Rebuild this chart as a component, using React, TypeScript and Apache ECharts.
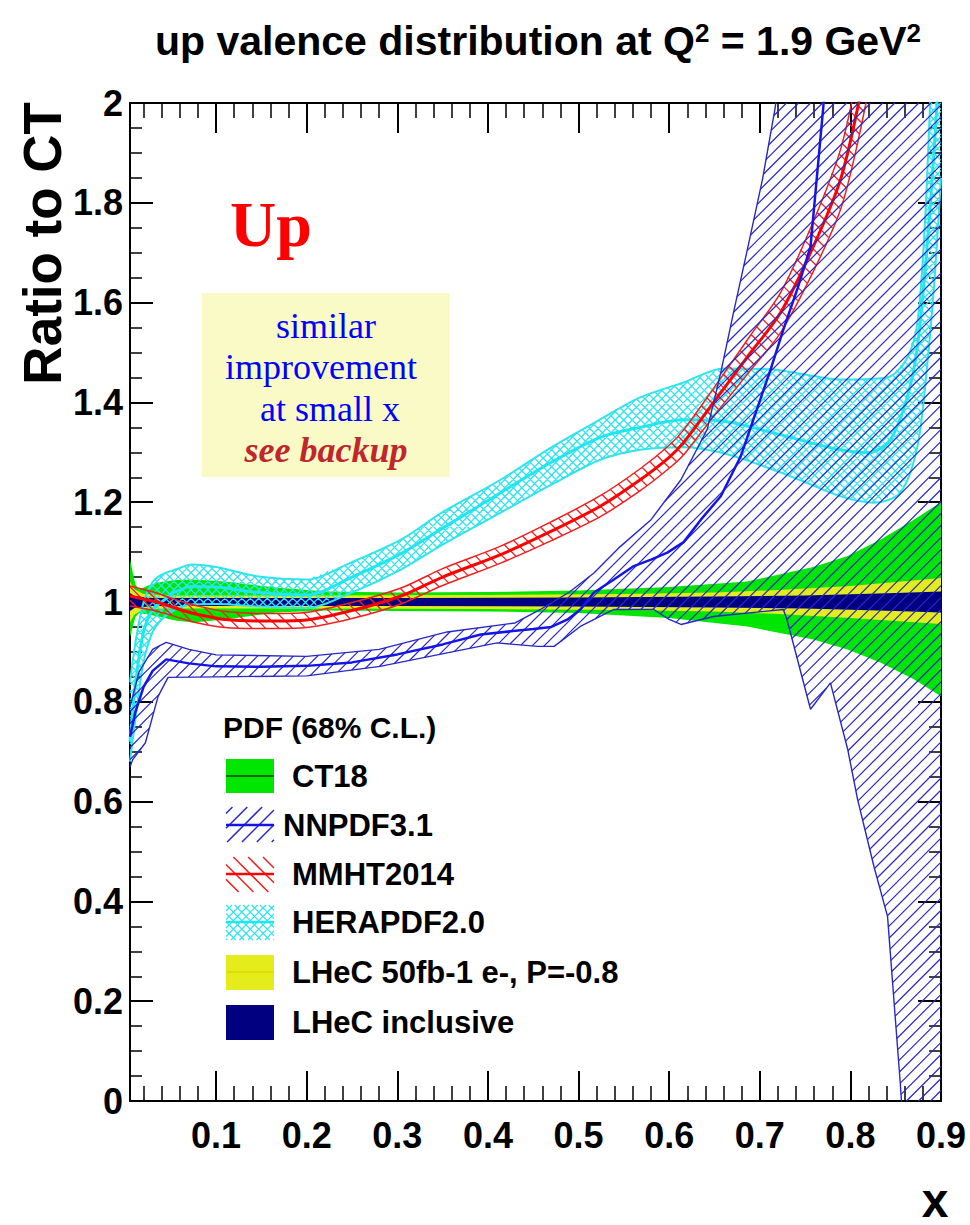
import { useEffect, useRef } from 'react';
import * as echarts from 'echarts';

type Pt = [number, number];

// ---- axes -------------------------------------------------------------
const X_MIN = 0.005;
const X_MAX = 0.9;
const Y_MIN = 0;
const Y_MAX = 2;
const xMajorTicks = [0.1, 0.2, 0.3, 0.4, 0.5, 0.6, 0.7, 0.8, 0.9];
const xTickLabels = ['0.1', '0.2', '0.3', '0.4', '0.5', '0.6', '0.7', '0.8', '0.9'];
const yTickLabels = ['0', '0.2', '0.4', '0.6', '0.8', '1', '1.2', '1.4', '1.6', '1.8', '2'];

// ---- CT18 (solid green band) -----------------------------------------
const ct18Upper: Pt[] = [[0.005, 1.085], [0.008, 1.06], [0.011, 1.035], [0.015, 1.025], [0.025, 1.033], [0.036, 1.039], [0.055, 1.044], [0.074, 1.045], [0.11, 1.041], [0.166, 1.029], [0.221, 1.021], [0.3, 1.019], [0.4, 1.02], [0.5, 1.023], [0.6, 1.03], [0.686, 1.041], [0.759, 1.07], [0.797, 1.092], [0.833, 1.125], [0.87, 1.165], [0.9, 1.2]];
const ct18Lower: Pt[] = [[0.005, 0.93], [0.008, 0.95], [0.011, 0.97], [0.015, 0.978], [0.025, 0.975], [0.036, 0.971], [0.055, 0.963], [0.074, 0.959], [0.11, 0.965], [0.166, 0.979], [0.221, 0.983], [0.3, 0.982], [0.4, 0.981], [0.5, 0.978], [0.6, 0.968], [0.686, 0.951], [0.759, 0.925], [0.797, 0.905], [0.833, 0.879], [0.87, 0.845], [0.9, 0.811]];
const ct18Central: Pt[] = [[0.005, 1], [0.9, 1]];

// ---- LHeC 50fb-1 e-, P=-0.8 (yellow band) ---------------------------
const lhec50Upper: Pt[] = [[0.005, 1.04], [0.01, 1.025], [0.02, 1.016], [0.05, 1.013], [0.2, 1.013], [0.4, 1.014], [0.55, 1.016], [0.65, 1.019], [0.72, 1.024], [0.8, 1.032], [0.85, 1.04], [0.9, 1.048]];
const lhec50Lower: Pt[] = [[0.005, 0.96], [0.01, 0.975], [0.02, 0.985], [0.05, 0.987], [0.2, 0.987], [0.4, 0.986], [0.55, 0.984], [0.65, 0.981], [0.72, 0.976], [0.8, 0.968], [0.85, 0.962], [0.9, 0.956]];

// ---- LHeC inclusive (navy band) --------------------------------------
const lhecIncUpper: Pt[] = [[0.005, 1.018], [0.01, 1.012], [0.03, 1.008], [0.3, 1.008], [0.5, 1.009], [0.65, 1.011], [0.75, 1.013], [0.85, 1.018], [0.9, 1.021]];
const lhecIncLower: Pt[] = [[0.005, 0.982], [0.01, 0.988], [0.03, 0.992], [0.3, 0.992], [0.5, 0.991], [0.65, 0.989], [0.75, 0.987], [0.85, 0.982], [0.9, 0.979]];

// ---- HERAPDF2.0 (cyan, cross-hatched) --------------------------------
const heraUpper: Pt[] = [[0.005, 0.84], [0.012, 0.93], [0.02, 1.0], [0.03, 1.04], [0.04, 1.055], [0.055, 1.065], [0.074, 1.075], [0.1, 1.07], [0.147, 1.051], [0.2, 1.045], [0.25, 1.08], [0.304, 1.125], [0.35, 1.18], [0.414, 1.245], [0.47, 1.31], [0.524, 1.366], [0.568, 1.41], [0.616, 1.44], [0.66, 1.468], [0.715, 1.466], [0.75, 1.456], [0.789, 1.446], [0.82, 1.447], [0.844, 1.452], [0.863, 1.49], [0.874, 1.56], [0.882, 1.75], [0.888, 2.0], [0.895, 2.3], [0.9, 2.5]];
const heraCentral: Pt[] = [[0.005, 0.72], [0.012, 0.85], [0.02, 0.94], [0.03, 0.985], [0.04, 1.0], [0.055, 1.02], [0.074, 1.031], [0.1, 1.03], [0.147, 1.019], [0.2, 1.014], [0.25, 1.05], [0.304, 1.097], [0.35, 1.148], [0.414, 1.219], [0.47, 1.28], [0.524, 1.33], [0.568, 1.35], [0.616, 1.365], [0.66, 1.362], [0.715, 1.339], [0.75, 1.322], [0.789, 1.305], [0.819, 1.299], [0.844, 1.325], [0.863, 1.412], [0.874, 1.512], [0.885, 1.72], [0.895, 1.98], [0.9, 2.15]];
const heraLower: Pt[] = [[0.005, 0.68], [0.012, 0.78], [0.02, 0.88], [0.03, 0.94], [0.04, 0.965], [0.055, 0.985], [0.074, 0.995], [0.1, 0.996], [0.147, 0.991], [0.2, 0.988], [0.25, 1.019], [0.304, 1.065], [0.35, 1.115], [0.414, 1.179], [0.47, 1.235], [0.524, 1.285], [0.568, 1.305], [0.616, 1.31], [0.66, 1.298], [0.715, 1.265], [0.75, 1.24], [0.789, 1.212], [0.826, 1.199], [0.855, 1.219], [0.874, 1.312], [0.885, 1.479], [0.893, 1.65], [0.9, 1.85]];

// ---- MMHT2014 (red, hatched) -----------------------------------------
const mmhtUpper: Pt[] = [[0.005, 1.032], [0.02, 1.025], [0.036, 1.017], [0.06, 1.002], [0.08, 0.992], [0.11, 0.981], [0.15, 0.977], [0.193, 0.978], [0.25, 0.999], [0.304, 1.028], [0.35, 1.067], [0.414, 1.112], [0.47, 1.161], [0.524, 1.213], [0.568, 1.267], [0.6, 1.314], [0.616, 1.345], [0.649, 1.428], [0.69, 1.535], [0.723, 1.62], [0.759, 1.762], [0.789, 1.906], [0.808, 2.06], [0.83, 2.28]];
const mmhtCentral: Pt[] = [[0.005, 1.012], [0.02, 1.006], [0.036, 0.999], [0.06, 0.985], [0.08, 0.975], [0.11, 0.965], [0.15, 0.962], [0.193, 0.963], [0.25, 0.983], [0.304, 1.012], [0.35, 1.05], [0.414, 1.095], [0.47, 1.142], [0.524, 1.192], [0.568, 1.245], [0.6, 1.29], [0.616, 1.32], [0.649, 1.4], [0.69, 1.5], [0.723, 1.58], [0.759, 1.712], [0.789, 1.846], [0.808, 1.99], [0.83, 2.2]];
const mmhtLower: Pt[] = [[0.005, 0.992], [0.02, 0.987], [0.036, 0.981], [0.06, 0.968], [0.08, 0.958], [0.11, 0.949], [0.15, 0.947], [0.193, 0.948], [0.25, 0.967], [0.304, 0.996], [0.35, 1.033], [0.414, 1.078], [0.47, 1.123], [0.524, 1.171], [0.568, 1.223], [0.6, 1.268], [0.616, 1.295], [0.649, 1.372], [0.69, 1.465], [0.723, 1.54], [0.759, 1.662], [0.789, 1.786], [0.808, 1.92], [0.83, 2.12]];

// ---- NNPDF3.1 (blue, hatched) ----------------------------------------
const nnpdfUpper: Pt[] = [[0.005, 0.79], [0.015, 0.86], [0.03, 0.905], [0.045, 0.919], [0.07, 0.905], [0.1, 0.894], [0.2, 0.891], [0.28, 0.905], [0.355, 0.94], [0.43, 0.958], [0.458, 0.985], [0.49, 1.02], [0.517, 1.058], [0.546, 1.111], [0.58, 1.165], [0.613, 1.245], [0.642, 1.346], [0.657, 1.46], [0.671, 1.58], [0.687, 1.712], [0.703, 1.847], [0.717, 1.99], [0.73, 2.2], [0.9, 2.2]];
const nnpdfCentral: Pt[] = [[0.005, 0.73], [0.011, 0.78], [0.02, 0.83], [0.03, 0.862], [0.045, 0.885], [0.07, 0.877], [0.1, 0.871], [0.15, 0.87], [0.2, 0.872], [0.25, 0.879], [0.3, 0.895], [0.35, 0.915], [0.392, 0.935], [0.45, 0.946], [0.47, 0.95], [0.488, 0.965], [0.502, 0.985], [0.517, 1.019], [0.539, 1.045], [0.561, 1.072], [0.58, 1.085], [0.598, 1.099], [0.616, 1.12], [0.635, 1.165], [0.657, 1.212], [0.679, 1.292], [0.693, 1.366], [0.712, 1.466], [0.726, 1.546], [0.742, 1.63], [0.756, 1.712], [0.77, 1.99], [0.78, 2.2]];
const nnpdfLower: Pt[] = [[0.005, 0.67], [0.008, 0.684], [0.022, 0.718], [0.036, 0.811], [0.047, 0.849], [0.1, 0.85], [0.2, 0.852], [0.281, 0.871], [0.355, 0.898], [0.41, 0.918], [0.455, 0.911], [0.473, 0.911], [0.502, 0.951], [0.539, 0.985], [0.583, 0.985], [0.6, 0.965], [0.613, 0.955], [0.649, 0.971], [0.726, 0.985], [0.73, 0.965], [0.756, 0.785], [0.778, 0.838], [0.797, 0.705], [0.808, 0.604], [0.826, 0.47], [0.841, 0.37], [0.848, 0.203], [0.855, 0.037], [0.86, -0.1], [0.9, -0.2]];

// ---- styling ------------------------------------------------------------
const SANS = '"Liberation Sans", Arial, Helvetica, sans-serif';
const SERIF = '"Liberation Serif", "Times New Roman", serif';
const COL = {
  ct18: '#00e600',
  ct18Line: '#006400',
  lhec50: '#e4ec1c',
  lhec50Line: '#e0e000',
  lhecInc: '#000080',
  nnpdf: '#2828c8',
  nnpdfMid: '#1414e8',
  mmht: '#f02020',
  mmhtMid: '#ff0000',
  hera: '#30e4ee',
  heraMid: '#20e6f0',
};

type Rect = { x: number; y: number; w: number; h: number };

// Liang-Barsky clipping of a segment against a rectangle
function clipSeg(x1: number, y1: number, x2: number, y2: number, r: Rect): number[] | null {
  let t0 = 0;
  let t1 = 1;
  const dx = x2 - x1;
  const dy = y2 - y1;
  const p = [-dx, dx, -dy, dy];
  const q = [x1 - r.x, r.x + r.w - x1, y1 - r.y, r.y + r.h - y1];
  for (let i = 0; i < 4; i++) {
    if (p[i] === 0) {
      if (q[i] < 0) return null;
      continue;
    }
    const t = q[i] / p[i];
    if (p[i] < 0) {
      if (t > t1) return null;
      if (t > t0) t0 = t;
    } else {
      if (t < t0) return null;
      if (t < t1) t1 = t;
    }
  }
  if (t1 <= t0) return null;
  return [x1 + t0 * dx, y1 + t0 * dy, x1 + t1 * dx, y1 + t1 * dy];
}

// Parallel hatch lines filling a polygon (even-odd), clipped to a rectangle
function hatchSegments(poly: number[][], angleDeg: number, spacing: number, r: Rect): number[][] {
  const th = (angleDeg * Math.PI) / 180;
  const dx = Math.cos(th);
  const dy = -Math.sin(th);
  const nx = -dy;
  const ny = dx;
  const hits: Record<number, number[]> = {};
  const n = poly.length;
  for (let i = 0; i < n; i++) {
    const a = poly[i];
    const b = poly[(i + 1) % n];
    const sa = nx * a[0] + ny * a[1];
    const sb = nx * b[0] + ny * b[1];
    if (sa === sb) continue;
    const lo = Math.min(sa, sb);
    const hi = Math.max(sa, sb);
    for (let k = Math.ceil(lo / spacing); k * spacing < hi; k++) {
      const c = k * spacing;
      const t = (c - sa) / (sb - sa);
      const px = a[0] + t * (b[0] - a[0]);
      const py = a[1] + t * (b[1] - a[1]);
      if (!hits[k]) hits[k] = [];
      hits[k].push(dx * px + dy * py);
    }
  }
  const segs: number[][] = [];
  Object.keys(hits).forEach((key) => {
    const k = Number(key);
    const us = hits[k].sort((p, q) => p - q);
    const c = k * spacing;
    for (let j = 0; j + 1 < us.length; j += 2) {
      const s = clipSeg(nx * c + dx * us[j], ny * c + dy * us[j], nx * c + dx * us[j + 1], ny * c + dy * us[j + 1], r);
      if (s) segs.push(s);
    }
  });
  return segs;
}

function bandPoints(api: any, upper: Pt[], lower: Pt[]): number[][] {
  const pts: number[][] = [];
  upper.forEach((p) => pts.push(api.coord(p)));
  for (let i = lower.length - 1; i >= 0; i--) pts.push(api.coord(lower[i]));
  return pts;
}

function fillSeries(name: string, upper: Pt[], lower: Pt[], color: string, z: number) {
  return {
    name,
    type: 'custom',
    z,
    silent: true,
    clip: true,
    data: [[0.5, 1]],
    renderItem: (_params: any, api: any) => ({
      type: 'polygon',
      shape: { points: bandPoints(api, upper, lower) },
      style: { fill: color, stroke: 'none' },
    }),
  };
}

function hatchSeries(name: string, upper: Pt[], lower: Pt[], angles: number[], spacing: number, color: string, width: number, z: number) {
  return {
    name,
    type: 'custom',
    z,
    silent: true,
    data: [[0.5, 1]],
    renderItem: (params: any, api: any) => {
      const cs = params.coordSys;
      const r: Rect = { x: cs.x, y: cs.y, w: cs.width, h: cs.height };
      const pts = bandPoints(api, upper, lower);
      let d = '';
      angles.forEach((a) => {
        hatchSegments(pts, a, spacing, r).forEach((s) => {
          d += `M${s[0].toFixed(2)} ${s[1].toFixed(2)}L${s[2].toFixed(2)} ${s[3].toFixed(2)}`;
        });
      });
      if (!d) return { type: 'group', children: [] };
      return {
        type: 'path',
        shape: { pathData: d },
        style: { fill: 'none', stroke: color, lineWidth: width },
      };
    },
  };
}

function lineSeries(name: string, data: Pt[], color: string, width: number, z: number, smooth: number | boolean) {
  return {
    name,
    type: 'line',
    data,
    z,
    silent: true,
    clip: true,
    symbol: 'none',
    showSymbol: false,
    smooth,
    lineStyle: { color, width },
  };
}

function legendHatch(x: number, y: number, w: number, h: number, angles: number[], spacing: number, color: string, width: number) {
  const r: Rect = { x, y, w, h };
  const poly = [[x, y], [x + w, y], [x + w, y + h], [x, y + h]];
  const out: any[] = [];
  angles.forEach((a) => {
    hatchSegments(poly, a, spacing, r).forEach((s) => {
      out.push({ type: 'line', silent: true, z: 100, shape: { x1: s[0], y1: s[1], x2: s[2], y2: s[3] }, style: { stroke: color, lineWidth: width } });
    });
  });
  return out;
}

function legendText(text: string, x: number, y: number) {
  return {
    type: 'text',
    x,
    y,
    z: 100,
    silent: true,
    style: { text, fill: '#000', fontSize: 31, fontWeight: 'bold', fontFamily: SANS, align: 'left', verticalAlign: 'middle' },
  };
}

function hline(x: number, y: number, w: number, color: string, width: number) {
  return { type: 'line', silent: true, z: 101, shape: { x1: x, y1: y, x2: x + w, y2: y }, style: { stroke: color, lineWidth: width } };
}

function buildOption() {
  const minorX: number[] = [];
  for (let i = 1; i < 45; i++) if (i % 5 !== 0) minorX.push(Number((i * 0.02).toFixed(2)));

  const axisLine = { show: true, onZero: false, lineStyle: { color: '#000', width: 2 } };
  const noLine = { show: false, onZero: false };
  const baseX = { type: 'value', min: X_MIN, max: X_MAX, splitLine: { show: false } };
  const baseY = {
    type: 'value',
    min: Y_MIN,
    max: Y_MAX,
    interval: 0.2,
    splitLine: { show: false },
    minorSplitLine: { show: false },
    axisLine,
    axisTick: { show: true, inside: true, length: 23, lineStyle: { color: '#000', width: 2 } },
    minorTick: { show: true, splitNumber: 4, length: 12, lineStyle: { color: '#000', width: 1.5 } },
  };
  const majorTickX = { show: true, inside: true, length: 30, customValues: xMajorTicks, lineStyle: { color: '#000', width: 2 } };
  const minorTickX = { show: true, inside: true, length: 15, customValues: minorX, lineStyle: { color: '#000', width: 1.5 } };

  const LX = 226;
  const LW = 48;
  const graphic: any[] = [
    // y-axis title
    {
      type: 'text', x: 42, y: 102, rotation: Math.PI / 2, z: 100, silent: true,
      style: { text: 'Ratio to CT', fill: '#000', fontSize: 53, fontWeight: 'bold', fontFamily: SANS, align: 'right', verticalAlign: 'middle' },
    },
    // x-axis title
    {
      type: 'text', x: 935, y: 1224, z: 100, silent: true,
      style: { text: 'x', fill: '#000', fontSize: 48, fontWeight: 'bold', fontFamily: SANS, align: 'center', verticalAlign: 'bottom' },
    },
    // "Up" label
    {
      type: 'text', x: 230, y: 224, z: 100, silent: true,
      style: { text: 'Up', fill: '#ff0000', fontSize: 64, fontWeight: 'bold', fontFamily: SERIF, align: 'left', verticalAlign: 'middle' },
    },
    // note box
    { type: 'rect', silent: true, z: 50, shape: { x: 202, y: 293, width: 248, height: 184 }, style: { fill: '#fafac6' } },
    { type: 'text', x: 326, y: 326, z: 100, silent: true, style: { text: 'similar', fill: '#0000ff', fontSize: 36, fontFamily: SERIF, align: 'center', verticalAlign: 'middle' } },
    { type: 'text', x: 321, y: 367, z: 100, silent: true, style: { text: 'improvement', fill: '#0000ff', fontSize: 36, fontFamily: SERIF, align: 'center', verticalAlign: 'middle' } },
    { type: 'text', x: 330, y: 409, z: 100, silent: true, style: { text: 'at small x', fill: '#0000ff', fontSize: 36, fontFamily: SERIF, align: 'center', verticalAlign: 'middle' } },
    { type: 'text', x: 326, y: 450, z: 100, silent: true, style: { text: 'see backup', fill: '#c0272d', fontSize: 36, fontWeight: 'bold', fontStyle: 'italic', fontFamily: SERIF, align: 'center', verticalAlign: 'middle' } },
    // legend
    { type: 'text', x: 223, y: 727, z: 100, silent: true, style: { text: 'PDF (68% C.L.)', fill: '#000', fontSize: 30, fontWeight: 'bold', fontFamily: SANS, align: 'left', verticalAlign: 'middle' } },
    { type: 'rect', silent: true, z: 100, shape: { x: LX, y: 759, width: LW, height: 34 }, style: { fill: COL.ct18 } },
    hline(LX, 776, LW, COL.ct18Line, 2),
    legendText('CT18', 292, 776),
    ...legendHatch(LX, 807, LW, 35, [45], 10.5, COL.nnpdf, 1.5),
    hline(LX, 825, LW, COL.nnpdfMid, 2.5),
    legendText('NNPDF3.1', 283, 825),
    ...legendHatch(LX, 857, LW, 35, [-45], 10.5, COL.mmht, 1.5),
    hline(LX, 874, LW, COL.mmhtMid, 2.5),
    legendText('MMHT2014', 292, 874),
    ...legendHatch(LX, 905, LW, 35, [45, -45], 6, COL.hera, 1.2),
    hline(LX, 922, LW, COL.heraMid, 2.5),
    legendText('HERAPDF2.0', 292, 922),
    { type: 'rect', silent: true, z: 100, shape: { x: LX, y: 955, width: LW, height: 35 }, style: { fill: COL.lhec50 } },
    hline(LX, 972, LW, COL.lhec50Line, 2),
    legendText('LHeC 50fb-1 e-, P=-0.8', 292, 972),
    { type: 'rect', silent: true, z: 100, shape: { x: LX, y: 1005, width: LW, height: 35 }, style: { fill: COL.lhecInc } },
    legendText('LHeC inclusive', 292, 1022),
  ];

  return {
    animation: false,
    backgroundColor: '#ffffff',
    title: {
      text: '{t|up valence distribution at Q}{s|2}{t| = 1.9 GeV}{s|2}',
      left: 150,
      top: 15,
      textStyle: {
        rich: {
          t: { fontSize: 41, fontWeight: 'bold', fontFamily: SANS, color: '#000' },
          s: { fontSize: 26, fontWeight: 'bold', fontFamily: SANS, color: '#000', verticalAlign: 'top' },
        },
      },
    },
    grid: { left: 130, right: 29, top: 103, bottom: 124, containLabel: false, outerBoundsMode: 'none' },
    xAxis: [
      {
        ...baseX,
        position: 'bottom',
        axisLine,
        axisTick: majorTickX,
        axisLabel: {
          show: true,
          customValues: xMajorTicks,
          formatter: (v: number) => xTickLabels[Math.round(v * 10) - 1] ?? '',
          fontSize: 36,
          fontWeight: 'bold',
          fontFamily: SANS,
          color: '#000',
          margin: 16,
          showMinLabel: true,
          showMaxLabel: true,
        },
      },
      { ...baseX, position: 'bottom', axisLine: noLine, axisTick: minorTickX, axisLabel: { show: false } },
      { ...baseX, position: 'top', axisLine, axisTick: majorTickX, axisLabel: { show: false } },
      { ...baseX, position: 'top', axisLine: noLine, axisTick: minorTickX, axisLabel: { show: false } },
    ],
    yAxis: [
      {
        ...baseY,
        position: 'left',
        axisLabel: {
          show: true,
          formatter: (v: number) => yTickLabels[Math.round(v / 0.2)] ?? '',
          fontSize: 36,
          fontWeight: 'bold',
          fontFamily: SANS,
          color: '#000',
          margin: 7,
          showMinLabel: true,
          showMaxLabel: true,
        },
      },
      { ...baseY, position: 'right', axisLabel: { show: false } },
    ],
    series: [
      fillSeries('CT18', ct18Upper, ct18Lower, COL.ct18, 2),
      lineSeries('CT18 central', ct18Central, COL.ct18Line, 2, 2, false),
      fillSeries('LHeC 50fb-1 e-, P=-0.8', lhec50Upper, lhec50Lower, COL.lhec50, 3),
      fillSeries('LHeC inclusive', lhecIncUpper, lhecIncLower, COL.lhecInc, 4),

      hatchSeries('HERAPDF2.0 hatch', heraUpper, heraLower, [45, -45], 6, COL.hera, 1.3, 5),
      lineSeries('HERAPDF2.0 upper', heraUpper, COL.hera, 2, 5, 0.3),
      lineSeries('HERAPDF2.0 lower', heraLower, COL.hera, 2, 5, 0.3),
      lineSeries('HERAPDF2.0', heraCentral, COL.heraMid, 3, 5, 0.3),

      hatchSeries('MMHT2014 hatch', mmhtUpper, mmhtLower, [-45], 9.5, COL.mmht, 1.3, 6),
      lineSeries('MMHT2014 upper', mmhtUpper, COL.mmht, 1.5, 6, 0.3),
      lineSeries('MMHT2014 lower', mmhtLower, COL.mmht, 1.5, 6, 0.3),
      lineSeries('MMHT2014', mmhtCentral, COL.mmhtMid, 3, 6, 0.3),

      hatchSeries('NNPDF3.1 hatch', nnpdfUpper, nnpdfLower, [45], 8.5, COL.nnpdf, 1.2, 7),
      lineSeries('NNPDF3.1 upper', nnpdfUpper, COL.nnpdf, 1.4, 7, false),
      lineSeries('NNPDF3.1 lower', nnpdfLower, COL.nnpdf, 1.4, 7, false),
      lineSeries('NNPDF3.1', nnpdfCentral, COL.nnpdfMid, 2.5, 7, false),
    ],
    graphic,
  };
}

export default function App() {
  const ref = useRef<HTMLDivElement | null>(null);
  useEffect(() => {
    if (!ref.current) return;
    const chart = echarts.init(ref.current, null, { renderer: 'svg' });
    chart.setOption(buildOption() as any);
    return () => chart.dispose();
  }, []);
  return <div ref={ref} style={{ position: 'absolute', left: 0, top: 0, width: 970, height: 1225 }} />;
}
